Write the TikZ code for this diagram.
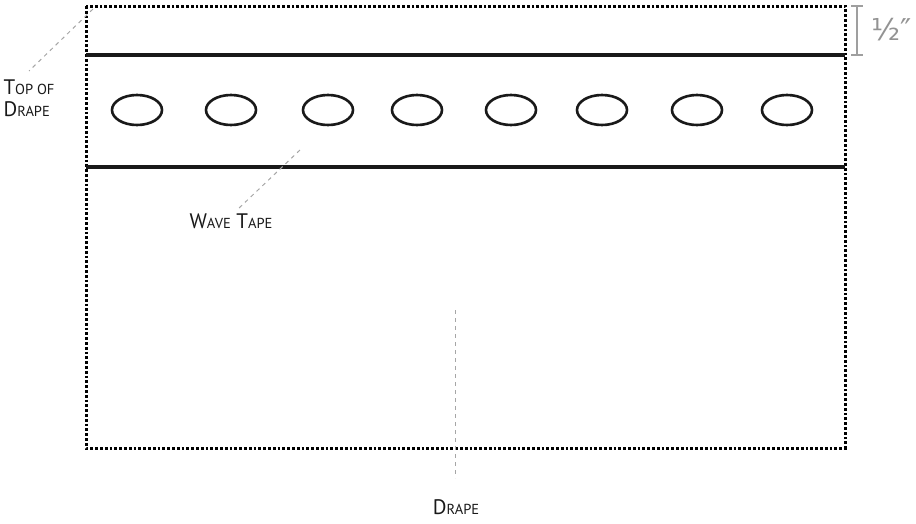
\documentclass[tikz,border=0pt]{standalone}
\usepackage{fontspec}
\setmainfont{PT Sans}
\newfontfamily\dimfont{DejaVu Sans}
\usetikzlibrary{positioning}
% fake small caps: big initial, smaller capitals
\newcommand\capsm[2]{{\fontsize{21}{23}\selectfont #1}{\fontsize{14.5}{23}\selectfont #2}}

\begin{document}
\begin{tikzpicture}[x=1pt,y=-1pt,
  drape line/.style={line width=3pt,dash pattern=on 2.8pt off 2pt},
  tape line/.style={line width=3.2pt,black!90},
  hole/.style={line width=2.6pt,black!90},
  leader/.style={gray!70,line width=1pt,dash pattern=on 4pt off 4pt},
  dim line/.style={gray!75,line width=1.8pt},
  label node/.style={align=left,inner sep=0pt,text=black!90,font=\fontsize{21}{23}\selectfont}]
  \useasboundingbox (0,0) rectangle (916,523);
  % drape outline and wave tape
  \draw[drape line] (86,6) rectangle (845,448);
  \draw[tape line] (86,55) -- (845,55);
  \draw[tape line] (86,167) -- (845,167);
  \foreach \x in {137,231,328,417,511,602,697,787}
    \draw[hole] (\x,110) ellipse (25 and 15);
  % half inch marker
  \draw[dim line] (857,6) -- (857,55);
  \draw[dim line] (851,6) -- (863,6);
  \draw[dim line] (851,55) -- (863,55);
  \node[text=gray!85,font=\dimfont\fontsize{30}{33}\selectfont,inner sep=0pt] (half) at (892,30) {½″};
  % labels
  \node[label node,anchor=north] (top) at (29,80) {\capsm{T}{OP OF}\\[-1pt]\capsm{D}{RAPE}};
  \node[label node,anchor=north] (wave) at (231,214) {\capsm{W}{AVE} \capsm{T}{APE}};
  \node[label node,anchor=north] (drape) at (456,499) {\capsm{D}{RAPE}};
  \coordinate (topend) at (93,9);
  \coordinate (waveend) at (300,150);
  \coordinate (drapeend) at (455,310);
  \draw[leader] (topend) -- ([yshift=9pt]top.north);
  \draw[leader] (waveend) -- ([xshift=6pt,yshift=4pt]wave.north);
  \draw[leader] (drapeend) -- ([xshift=-1pt,yshift=21pt]drape.north);
\end{tikzpicture}
\end{document}
